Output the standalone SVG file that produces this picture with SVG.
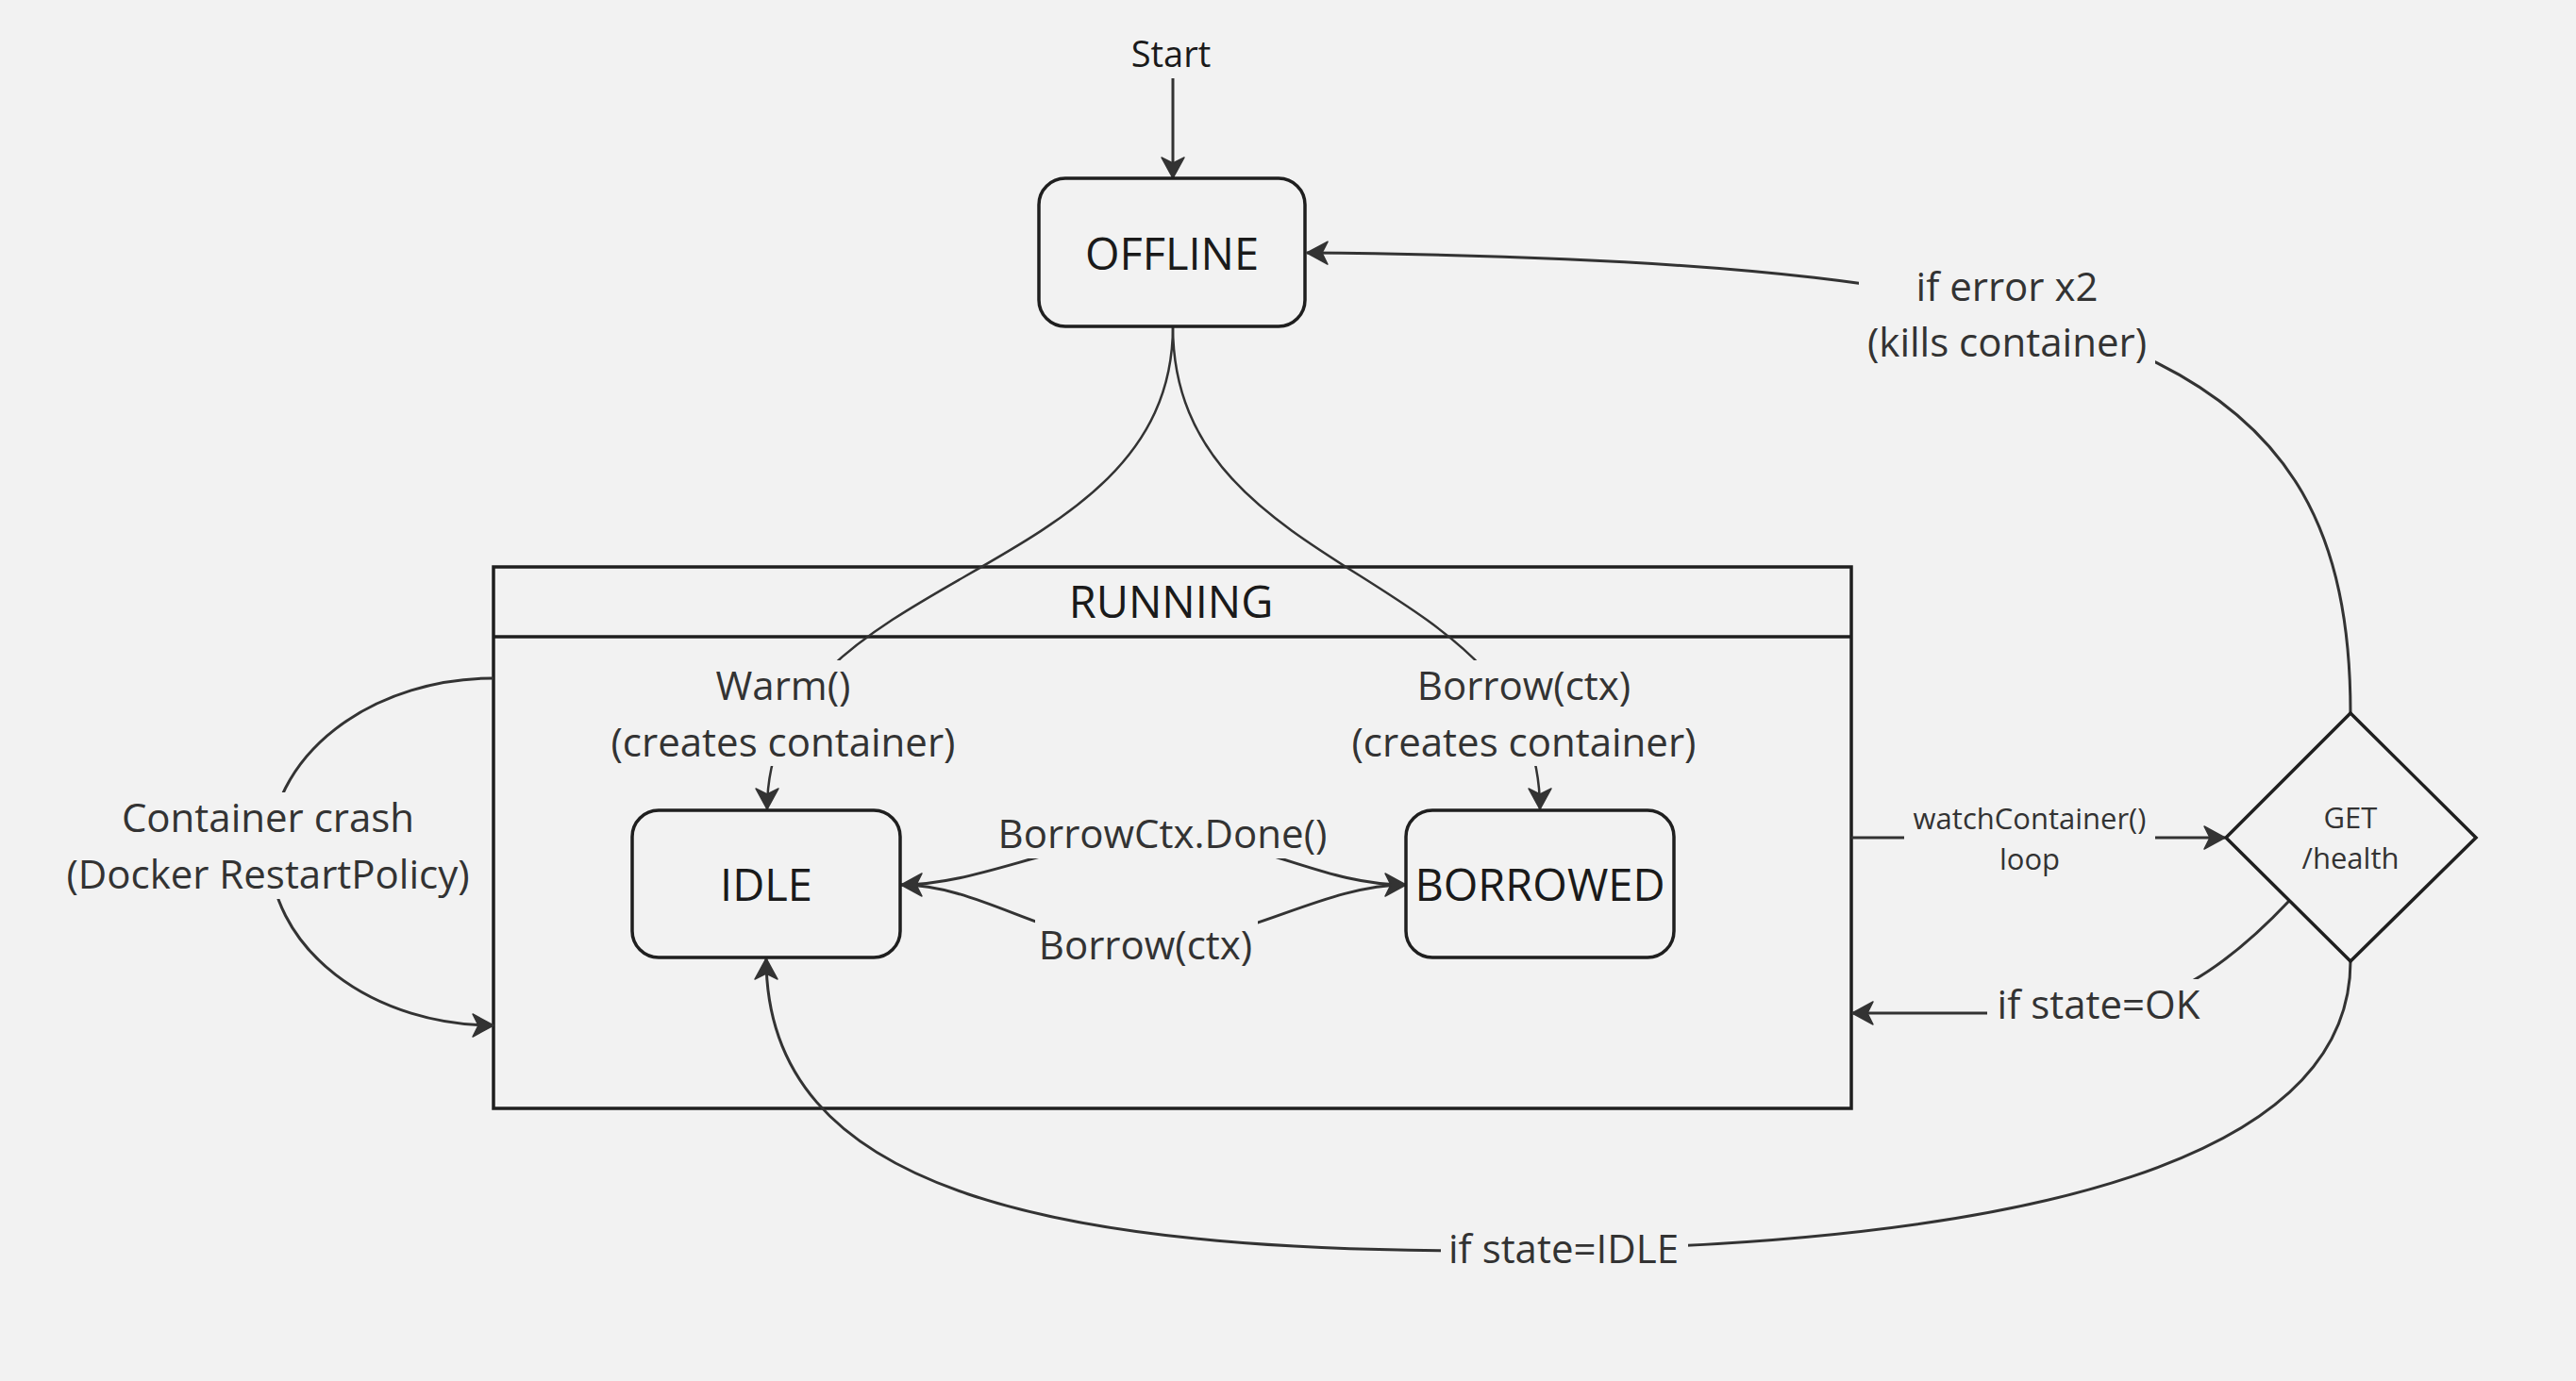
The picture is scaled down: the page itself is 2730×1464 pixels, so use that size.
<svg xmlns="http://www.w3.org/2000/svg" width="2730" height="1464" viewBox="0 0 2730 1464">
  <defs>
    <marker id="arr" markerUnits="userSpaceOnUse" markerWidth="32" markerHeight="32" viewBox="-26 -16 32 32" refX="0" refY="0" orient="auto">
      <path d="M0,0 L-22,-12 L-16,0 L-22,12 Z" fill="#333" stroke="#333" stroke-width="1.5" stroke-linejoin="round"/>
    </marker>
    <style>
      .bg { fill: #f2f2f2; }
      .box { fill: none; stroke: #1f1f1f; stroke-width: 3.5; }
      .state { font-family: "Open Sans", "Noto Sans", sans-serif; font-size: 47px; fill: #1a1a1a; text-anchor: middle; }
      .lbl { font-family: "Open Sans", "Noto Sans", sans-serif; font-size: 42px; fill: #333; text-anchor: middle; }
      .small { font-family: "Open Sans", "Noto Sans", sans-serif; font-size: 31px; fill: #333; text-anchor: middle; }
      .start { font-family: "Open Sans", "Noto Sans", sans-serif; font-size: 38px; fill: #1a1a1a; text-anchor: middle; }
      .conn { fill: none; stroke: #333; stroke-width: 3; }
      .thin { fill: none; stroke: #333; stroke-width: 2.5; }
      .mask { fill: #f2f2f2; stroke: none; }
    </style>
  </defs>

  <rect class="bg" x="0" y="0" width="2730" height="1464"/>

  <g id="node-running">
    <rect class="box" x="523" y="601" width="1439" height="574"/>
    <line class="box" x1="523" y1="675" x2="1962" y2="675"/>
    <text class="state" x="1241" y="655">RUNNING</text>
  </g>

  <g id="connectors">
    <path id="c-start" class="conn" d="M1243 83 L1243 189" marker-end="url(#arr)"/>
    <path id="c-warm" class="thin" d="M1243 346 C1243 620 813 600 813 858" marker-end="url(#arr)"/>
    <path id="c-borrow-new" class="thin" d="M1243 346 C1243 620 1632 600 1632 858" marker-end="url(#arr)"/>
    <path id="c-done" class="conn" d="M1490 938 C1400 938 1340 890 1232 885 C1120 890 1040 938 955 938" marker-end="url(#arr)"/>
    <path id="c-borrow" class="conn" d="M955 938 C1040 938 1110 1000 1214 1003 C1320 1000 1400 938 1490 938" marker-end="url(#arr)"/>
    <path id="c-crash" class="conn" d="M523 719 A237 184 0 0 0 523 1087" marker-end="url(#arr)"/>
    <path id="c-watch" class="conn" d="M1962 888 L2358 888" marker-end="url(#arr)"/>
    <path id="c-error" class="conn" d="M2491 756 C2491 380 2250 275 1385 268" marker-end="url(#arr)"/>
    <path id="c-ok" class="conn" d="M2426 955 C2360 1025 2290 1074 2200 1074 L1963 1074" marker-end="url(#arr)"/>
    <path id="c-idle" class="conn" d="M2491 1019 C2491 1230 2150 1315 1657 1325 C1100 1335 812 1260 812 1016" marker-end="url(#arr)"/>
  </g>

  <g id="connector-labels">
    <g id="l-start">
      <text class="start" x="1241" y="71">Start</text>
    </g>
    <g id="l-warm">
      <rect class="mask" x="640" y="700" width="380" height="112"/>
      <text class="lbl" x="830" y="742">Warm()</text>
      <text class="lbl" x="830" y="802">(creates container)</text>
    </g>
    <g id="l-borrow-new">
      <rect class="mask" x="1425" y="700" width="380" height="112"/>
      <text class="lbl" x="1615" y="742">Borrow(ctx)</text>
      <text class="lbl" x="1615" y="802">(creates container)</text>
    </g>
    <g id="l-done">
      <rect class="mask" x="1052" y="858" width="362" height="52"/>
      <text class="lbl" x="1232" y="899">BorrowCtx.Done()</text>
    </g>
    <g id="l-borrow">
      <rect class="mask" x="1097" y="975" width="236" height="56"/>
      <text class="lbl" x="1214" y="1017">Borrow(ctx)</text>
    </g>
    <g id="l-crash">
      <rect class="mask" x="62" y="840" width="444" height="113"/>
      <text class="lbl" x="284" y="882">Container crash</text>
      <text class="lbl" x="284" y="942">(Docker RestartPolicy)</text>
    </g>
    <g id="l-watch">
      <rect class="mask" x="2018" y="848" width="266" height="86"/>
      <text class="small" x="2151" y="879">watchContainer()</text>
      <text class="small" x="2151" y="922">loop</text>
    </g>
    <g id="l-error">
      <rect class="mask" x="1970" y="272" width="314" height="118"/>
      <text class="lbl" x="2127" y="319">if error x2</text>
      <text class="lbl" x="2127" y="378">(kills container)</text>
    </g>
    <g id="l-ok">
      <rect class="mask" x="2106" y="1038" width="228" height="58"/>
      <text class="lbl" x="2224" y="1080">if state=OK</text>
    </g>
    <g id="l-idle">
      <rect class="mask" x="1527" y="1298" width="262" height="56"/>
      <text class="lbl" x="1657" y="1339">if state=IDLE</text>
    </g>
  </g>

  <g id="node-offline">
    <rect class="box" x="1101" y="189" width="282" height="157" rx="28" ry="28" fill="#f2f2f2"/>
    <text class="state" x="1242" y="286">OFFLINE</text>
  </g>

  <g id="node-idle">
    <rect class="box" x="670" y="859" width="284" height="156" rx="28" ry="28"/>
    <text class="state" x="812" y="955">IDLE</text>
  </g>

  <g id="node-borrowed">
    <rect class="box" x="1490" y="859" width="284" height="156" rx="28" ry="28"/>
    <text class="state" x="1632" y="955">BORROWED</text>
  </g>

  <g id="node-health">
    <polygon class="box" points="2491,756 2624,888 2491,1019 2359,888" stroke-width="3"/>
    <text class="small" x="2491" y="878">GET</text>
    <text class="small" x="2491" y="921">/health</text>
  </g>
</svg>
